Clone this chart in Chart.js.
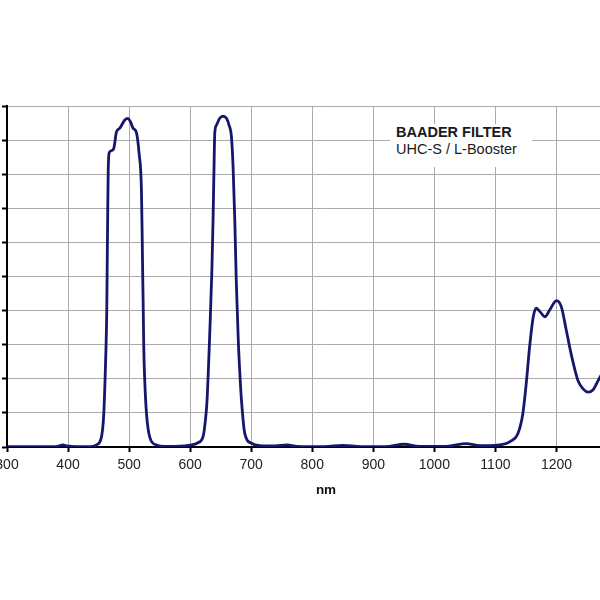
<!DOCTYPE html>
<html>
<head>
<meta charset="utf-8">
<script src="https://cdn.jsdelivr.net/npm/chart.js@4"></script>
<style>
  html, body { margin: 0; padding: 0; background: #fff; }
  #wrap { position: relative; width: 600px; height: 600px; overflow: hidden; background: #fff; }
  #c { position: absolute; left: -40px; top: 0; }
  #label {
    position: absolute; left: 390px; top: 123.5px; width: 142px; height: 43px;
    background: #fff; padding-left: 6px; box-sizing: border-box;
    font-family: 'Liberation Sans', Arial, Helvetica, sans-serif; font-size: 14.5px;
    line-height: 17.7px; color: #1a1a1a; white-space: nowrap;
  }
  #label b { font-weight: bold; }
</style>
</head>
<body>
<div id="wrap">
  <canvas id="c" width="685" height="600"></canvas>
  <div id="label"><b>BAADER FILTER</b><br>UHC-S / L-Booster</div>
</div>
<script>
// Wavelength (nm)
const wavelengths = [
  300, 380, 392, 398, 405, 420, 440.5, 446.5, 454.7, 458.5, 460.6, 462.2, 463.4, 464.2, 465, 465.8, 467.2,
  469.9, 474.8, 479.3, 484.7, 492.9, 498.3, 502.2, 506.5, 512, 516.3, 520.2, 521.5, 522.4, 523.2, 524,
  525.6, 528.4, 533.8, 544.8, 558.4, 575, 591, 602.6, 612, 621.1, 625.6, 627.7, 632.3, 635.6, 637.5,
  639, 640.3, 643.1, 648.5, 653.9, 659.5, 663.7, 667.6, 670.3, 673.1, 675.5, 678.8, 682, 684, 689.4,
  700.4, 714, 740, 758, 775, 820, 850, 880, 920, 951, 975, 1020, 1052, 1075, 1100, 1107, 1124, 1137,
  1145, 1151, 1156, 1162, 1167, 1173, 1181, 1189, 1200, 1208, 1216, 1225, 1235, 1243, 1252, 1260,
  1266, 1271, 1280
];
// Transmission (%)
const transmission = [
  0.1, 0.1, 0.6, 0.3, 0.2, 0.1, 0.2, 0.6, 2.9, 9.7, 19.6, 29.3, 40, 54.7, 69.4, 81.2, 86.2,
  86.8, 87.5, 92.4, 93.5, 95.9, 96.4, 95.4, 93.5, 92.2, 86.2, 75.4, 60.8, 49, 40, 29.3,
  19.6, 10, 2.9, 0.6, 0.2, 0.2, 0.3, 0.6, 1.2, 3, 8.9, 13.8, 34.3, 51.9, 66.6,
  81.2, 92, 94.4, 96.4, 97, 96.4, 94.4, 91, 82.2, 66.6, 49, 31.4, 19.6, 13.8, 4,
  1.1, 0.4, 0.3, 0.6, 0.2, 0.1, 0.5, 0.1, 0.1, 0.8, 0.2, 0.2, 1.0, 0.4, 0.5, 0.6, 1.6, 4,
  9.9, 19.6, 29.4, 38.2, 40.7, 39.7, 38.2, 40.2, 42.9, 41.1, 34.3, 26.5, 19.6, 17.2, 16.1, 16.8,
  18.7, 20.4, 23
];
const xTicks = { min: 300, max: 1345, step: 100 };
const yTicks = { min: 0, max: 100, step: 10 };
const axisTitle = 'nm';

const points = wavelengths.map((w, i) => ({ x: w, y: transmission[i] }));
const FONT = "'Liberation Sans', Arial, Helvetica, sans-serif";

new Chart(document.getElementById('c'), {
  type: 'line',
  data: {
    datasets: [{
      data: points,
      borderColor: '#16166c',
      borderWidth: 2.8,
      pointRadius: 0,
      fill: false,
      cubicInterpolationMode: 'monotone'
    }]
  },
  options: {
    responsive: false,
    animation: false,
    devicePixelRatio: 1,
    layout: { padding: { top: 106, bottom: 102, left: 0, right: 0 } },
    plugins: { legend: { display: false }, tooltip: { enabled: false }, title: { display: false } },
    scales: {
      x: {
        type: 'linear',
        min: xTicks.min, max: xTicks.max,
        afterFit: s => { s.height = 51; },
        grid: { color: '#ababab', lineWidth: 1, tickColor: '#000', tickWidth: 2, tickLength: 5 },
        border: { display: true, color: '#000', width: 2 },
        ticks: {
          stepSize: xTicks.step, includeBounds: false, padding: 5, maxRotation: 0, autoSkip: false,
          color: '#222', font: { family: FONT, size: 14 },
          callback: v => String(v)
        },
        title: { display: true, text: axisTitle, color: '#111', padding: 0,
                 font: { family: FONT, size: 13.5, weight: 'bold' } }
      },
      y: {
        min: yTicks.min, max: yTicks.max,
        afterFit: s => { s.width = 47; },
        grid: { color: '#ababab', lineWidth: 1, tickColor: '#000', tickWidth: 2, tickLength: 5 },
        border: { display: true, color: '#000', width: 2 },
        ticks: { stepSize: yTicks.step, display: false }
      }
    }
  }
});
</script>
</body>
</html>
